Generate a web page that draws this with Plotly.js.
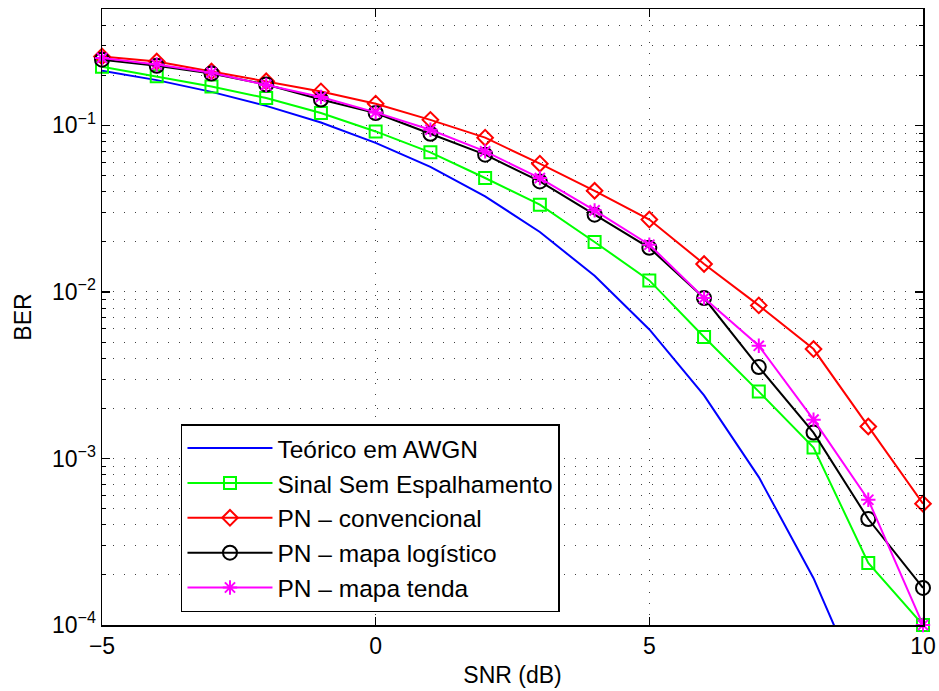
<!DOCTYPE html>
<html>
<head>
<meta charset="utf-8">
<script src="https://cdn.plot.ly/plotly-3.0.1.min.js"></script>
<style>html,body{margin:0;padding:0;background:#fff;}#chart{width:939px;height:691px;}</style>
</head>
<body>
<div id="chart"></div>
<script>
const snr = [-5, -4, -3, -2, -1, 0, 1, 2, 3, 4, 5, 6, 7, 8, 9, 10];
const berTeorico = [0.213, 0.187, 0.159, 0.131, 0.104, 0.0786, 0.0563, 0.0375, 0.0229, 0.0125, 0.00595, 0.00239, 0.000773, 0.000191, 0.0000336, 0.00000387];
const berSemEspalhamento = [0.225, 0.197, 0.171, 0.146, 0.1187, 0.092, 0.0689, 0.0483, 0.0334, 0.01995, 0.01173, 0.00536, 0.00252, 0.001164, 0.000236, 0.0001];
const berConvencional = [0.259, 0.242, 0.211, 0.184, 0.160, 0.135, 0.108, 0.0844, 0.0589, 0.0405, 0.0272, 0.01472, 0.0083, 0.00454, 0.001556, 0.000535];
const berLogistico = [0.248, 0.228, 0.205, 0.176, 0.143, 0.1187, 0.0891, 0.0667, 0.0461, 0.0291, 0.0184, 0.00919, 0.00354, 0.00143, 0.000433, 0.000167];
const berTenda = [0.254, 0.232, 0.207, 0.175, 0.148, 0.1197, 0.0942, 0.0698, 0.0483, 0.0309, 0.0192, 0.00919, 0.00475, 0.00171, 0.000565, 0.0001];

const seriesNames = ['Teórico em AWGN', 'Sinal Sem Espalhamento', 'PN – convencional', 'PN – mapa logístico', 'PN – mapa tenda'];
const yTickVals = [1e-4, 1e-3, 1e-2, 1e-1];
const yTickText = ['10<sup>−4</sup>', '10<sup>−3</sup>', '10<sup>−2</sup>', '10<sup>−1</sup>'];
const yMinorVals = [];
[1e-4, 1e-3, 1e-2, 1e-1].forEach(d => { for (let m = 2; m <= 9; m++) yMinorVals.push(m * d); });
const xTickVals = [-5, 0, 5, 10];

const font = 'Liberation Sans, Arial, Helvetica, sans-serif';
const lw = 2;

const traces = [
  {x: snr, y: berTeorico, name: seriesNames[0], mode: 'lines', line: {color: '#0000ff', width: lw}},
  {x: snr, y: berSemEspalhamento, name: seriesNames[1], mode: 'lines+markers', cliponaxis: false, line: {color: '#00ff00', width: lw},
   marker: {symbol: 'square-open', size: 12, color: '#00ff00', line: {color: '#00ff00', width: 2}}},
  {x: snr, y: berConvencional, name: seriesNames[2], mode: 'lines+markers', cliponaxis: false, line: {color: '#ff0000', width: lw},
   marker: {symbol: 'diamond-open', size: 12, color: '#ff0000', line: {color: '#ff0000', width: 2}}},
  {x: snr, y: berLogistico, name: seriesNames[3], mode: 'lines+markers', cliponaxis: false, line: {color: '#000000', width: lw},
   marker: {symbol: 'circle-open', size: 14, color: '#000000', line: {color: '#000000', width: 2}}},
  {x: snr, y: berTenda, name: seriesNames[4], mode: 'lines+markers', cliponaxis: false, line: {color: '#ff00ff', width: lw},
   marker: {symbol: 'asterisk-open', size: 12, color: '#ff00ff', line: {color: '#ff00ff', width: 2}}}
];

const gridDash = '1px,10px';
const layout = {
  width: 939, height: 691,
  margin: {l: 102, r: 16, t: 9, b: 66},
  paper_bgcolor: '#fff', plot_bgcolor: '#fff',
  font: {family: font, size: 23, color: '#000'},
  showlegend: true,
  legend: {
    x: 0.0962, y: 0.326, xanchor: 'left', yanchor: 'top',
    bgcolor: '#fff', bordercolor: '#000', borderwidth: 1.5,
    font: {family: font, size: 24.5, color: '#000'},
    itemwidth: 85, tracegroupgap: 0
  },
  xaxis: {
    range: [-5, 10], tickmode: 'array', tickvals: xTickVals, ticktext: xTickVals.map(v => v < 0 ? '−' + Math.abs(v) : String(v)),
    ticks: 'inside', ticklen: 8, tickwidth: 1.5, tickcolor: '#000',
    showline: true, linecolor: '#000', linewidth: 1.5, mirror: 'ticks',
    showgrid: true, gridcolor: 'rgba(0,0,0,0.75)', gridwidth: 1, griddash: gridDash,
    zeroline: false,
    tickfont: {family: font, size: 23, color: '#000'},
    title: {text: 'SNR (dB)', font: {family: font, size: 23, color: '#000'}, standoff: 9}
  },
  yaxis: {
    type: 'log', range: [-4, Math.log10(0.5)],
    tickmode: 'array', tickvals: yTickVals, ticktext: yTickText,
    ticks: 'inside', ticklen: 8, tickwidth: 1.5, tickcolor: '#000',
    showline: true, linecolor: '#000', linewidth: 1.5, mirror: 'ticks',
    showgrid: true, gridcolor: 'rgba(0,0,0,0.75)', gridwidth: 1, griddash: gridDash,
    zeroline: false,
    minor: {tickmode: 'array', tickvals: yMinorVals, ticks: 'inside', ticklen: 4, tickwidth: 1, tickcolor: '#000',
            showgrid: true, gridcolor: 'rgba(0,0,0,0.75)', gridwidth: 1, griddash: gridDash},
    tickfont: {family: font, size: 23, color: '#000'},
    title: {text: 'BER', font: {family: font, size: 23, color: '#000'}, standoff: 14}
  }
};

Plotly.newPlot('chart', traces, layout, {displayModeBar: false, staticPlot: true});
</script>
</body>
</html>
